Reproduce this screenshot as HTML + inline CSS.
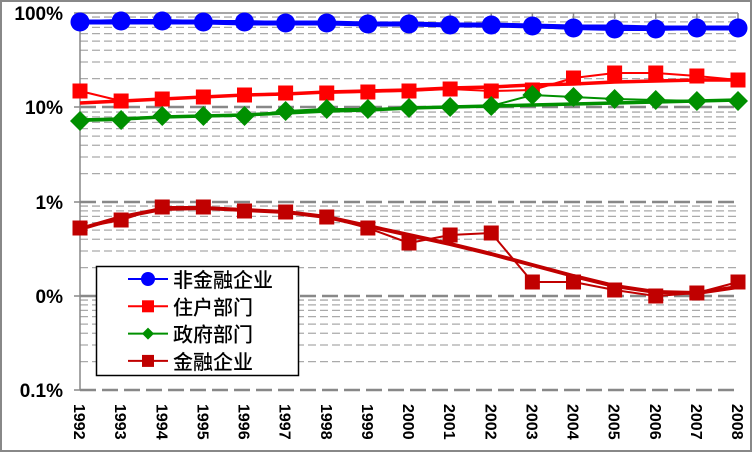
<!DOCTYPE html>
<html><head><meta charset="utf-8"><style>
html,body{margin:0;padding:0;background:#fff;}
svg{display:block;}
text{font-family:"Liberation Sans","Noto Sans CJK SC",sans-serif;font-weight:bold;fill:#000;}
</style></head><body>
<svg id="s" width="752" height="452" xmlns="http://www.w3.org/2000/svg"></svg>
<script>
const s=document.getElementById('s');let h='';
h+='<rect x="1" y="1" width="750" height="450" fill="#fff" stroke="#888" stroke-width="2"/>';
const x0=80,step=41.125,ys=[13,107,202,296,390];const dec=94.25;
for(let d=0;d<4;d++){for(let m=2;m<=9;m++){const y=ys[d+1]-Math.log10(m)*dec;h+=`<line x1="${x0}" x2="738" y1="${y}" y2="${y}" stroke="#aaa" stroke-width="1.3" stroke-dasharray="8,4"/>`;}}
for(let i=1;i<5;i++){h+=`<line x1="${x0}" x2="738" y1="${ys[i]}" y2="${ys[i]}" stroke="#888" stroke-width="2.5" stroke-dasharray="16,6"/>`;}
h+=`<line x1="${x0}" x2="738" y1="13" y2="13" stroke="#888" stroke-width="1.5"/>`;
h+=`<line x1="${x0}" x2="${x0}" y1="13" y2="390" stroke="#888" stroke-width="1.5"/>`;
for(let i=0;i<5;i++)h+=`<line x1="74" x2="${x0}" y1="${ys[i]}" y2="${ys[i]}" stroke="#888" stroke-width="1.5"/>`;
for(let i=0;i<17;i++){const x=x0+i*step;h+=`<line x1="${x}" x2="${x}" y1="13" y2="19" stroke="#888" stroke-width="1.5"/>`;}
const yl=['100%','10%','1%','0%','0.1%'];
for(let i=0;i<5;i++)h+=`<text x="63" y="${ys[i]+7}" font-size="19" text-anchor="end">${yl[i]}</text>`;
for(let i=0;i<17;i++){const x=x0+i*step;h+=`<text transform="translate(${x-6},404) rotate(90)" font-size="16">${1992+i}</text>`;}
function pl(pts,c,w){return `<polyline fill="none" stroke="${c}" stroke-width="${w}" stroke-linejoin="round" points="${pts.map((y,i)=>(x0+i*step)+','+y).join(' ')}"/>`;}
const blue=[22,21,21,22,22,23,23,24,24,25,25,26,28,29,29,28,28];
const blueT=[22,22,22,22,23,23,23,24,24,25,25,26,27,27,28,28,28];
const red=[91,101,99,97,95,93,93,92,91,89,91,90,78,73,73,76,80];
const redT=[103,101,99,97,95,94,92,91,90,88,87,85,84,82,81,80,80];
const grn=[121,120,116,116,116,111,109,109,108,107,106,95,97,99,100,101,101];
const grnT=[120,119,117,116,115,113,111,110,108,107,106,105,104,103,102,101,100];
const dr=[228,220,207,207,211,212,217,228,243,235,233,282,282,290,296,293,282];
const drT=[229,217,209,208,210,212,217,226,235,244,254,265,276,286,292,293,287];
h+=pl(blueT,'#0000ff',5)+pl(blue,'#0000ff',4);
h+=pl(redT,'#ff0000',3.5)+pl(red,'#ff0000',2);
h+=pl(grnT,'#009000',3.5)+pl(grn,'#009000',2);
h+=pl(drT,'#c00000',4)+pl(dr,'#c00000',2);
function mk(t,x,y,c){if(t=='c')return `<circle cx="${x}" cy="${y}" r="9.5" fill="${c}"/>`;if(t=='s')return `<rect x="${x-7.5}" y="${y-7.5}" width="15" height="15" fill="${c}"/>`;return `<polygon points="${x},${y-10} ${x+10},${y} ${x},${y+10} ${x-10},${y}" fill="${c}"/>`;}
for(let i=0;i<17;i++){const x=x0+i*step;h+=mk('c',x,blue[i],'#0000ff')+mk('s',x,red[i],'#ff0000')+mk('d',x,grn[i],'#009000')+mk('s',x,dr[i],'#c00000');}
h+='<rect x="96.5" y="266.5" width="202" height="109" fill="#fff" stroke="#000" stroke-width="1.5"/>';
const L=[['非金融企业','#0000ff','c'],['住户部门','#ff0000','s'],['政府部门','#009000','d'],['金融企业','#c00000','s']];
L.forEach((l,i)=>{const y=279+i*27.3;h+=`<line x1="128" x2="168" y1="${y}" y2="${y}" stroke="${l[1]}" stroke-width="2"/>`;
let m;if(l[2]=='c')m=`<circle cx="148" cy="${y}" r="7" fill="${l[1]}"/>`;if(l[2]=='s')m=`<rect x="142" y="${y-6}" width="12" height="12" fill="${l[1]}"/>`;if(l[2]=='d')m=`<polygon points="148,${y-6} 154,${y} 148,${y+6} 142,${y}" fill="${l[1]}"/>`;
h+=m+`<text x="173" y="${y+8}" font-size="20" style="font-weight:500">${l[0]}</text>`;});
s.innerHTML=h;
</script>
</body></html>
